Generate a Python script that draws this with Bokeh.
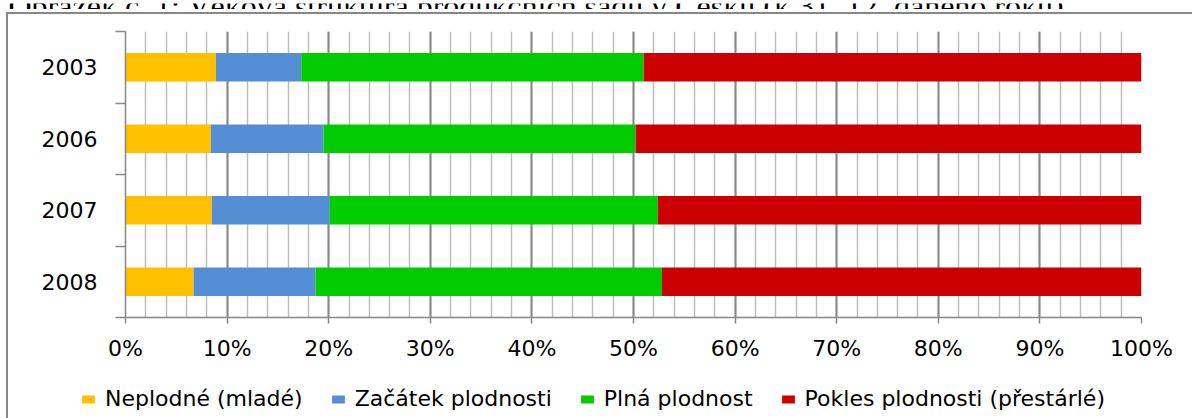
from bokeh.plotting import figure
from bokeh.layouts import column
from bokeh.models import (ColumnDataSource, FixedTicker, Legend, LegendItem,
                          PrintfTickFormatter, Range1d, InlineStyleSheet)
from bokeh.core.properties import value
from bokeh.embed import file_html
from bokeh.resources import INLINE

# ---------------- data ----------------
years = ["2003", "2006", "2007", "2008"]
neplodne = [8.9, 8.4, 8.5, 6.7]          # Neplodné (mladé)
zacatek = [8.4, 11.1, 11.6, 12.0]        # Začátek plodnosti
plna = [33.7, 30.7, 32.3, 34.1]          # Plná plodnost
pokles = [49.0, 49.8, 47.6, 47.2]        # Pokles plodnosti (přestárlé)
series_names = ["Neplodné (mladé)", "Začátek plodnosti", "Plná plodnost",
                "Pokles plodnosti (přestárlé)"]
colors = ["#FFC000", "#558ED5", "#00CC00", "#CC0000"]
x_ticks = list(range(0, 101, 10))
x_minor = list(range(0, 101, 2))
caption = "Obrázek č. 1: Věková struktura produkčních sadů v Česku (k 31. 12. daného roku)"

# ---------------- layout constants (px) ----------------
W = 1192
CAP_H = 9                      # visible strip of the (cropped) caption
LEG_H = 45                     # legend strip at the bottom
H = 418 - CAP_H - LEG_H        # main chart
FRAME_L, FRAME_R, FRAME_T, FRAME_B = 125, 1141, 22, 308


def no_align(f):
    if "frame_align" in f.properties():
        f.frame_align = False
    return f


def strip(height):
    f = figure(width=W, height=height, output_backend="svg", toolbar_location=None,
               x_range=Range1d(0, W), y_range=Range1d(0, height),
               x_axis_type=None, y_axis_type=None, title=None,
               min_border=0, min_border_left=0, min_border_right=0,
               min_border_top=0, min_border_bottom=0)
    f.outline_line_color = None
    f.grid.visible = False
    return no_align(f)


# ---------------- caption strip (cropped at the top, as in the source) ----------------
cap = strip(CAP_H)
cap.text(x=[8], y=[CAP_H - 2], text=[caption], text_font=value("Liberation Serif"),
         text_font_size="32px", text_color="black", text_baseline="alphabetic",
         text_align="left")

# ---------------- main chart ----------------
n = len(years)
ypos = [n - i - 0.5 for i in range(n)]    # first year on top
bounds = list(range(n + 1))

src = ColumnDataSource(dict(y=ypos, s0=neplodne, s1=zacatek, s2=plna, s3=pokles))

p = figure(width=W, height=H, output_backend="svg", toolbar_location=None,
           x_range=(0, 100), y_range=(0, n), title=None,
           min_border_left=FRAME_L, min_border_right=W - FRAME_R,
           min_border_top=FRAME_T, min_border_bottom=H - FRAME_B)
no_align(p)
p.outline_line_color = None
p.background_fill_color = "white"
p.border_fill_color = "white"

renderers = p.hbar_stack(["s0", "s1", "s2", "s3"], y="y", height=0.4,
                         color=colors, line_color=None, source=src)

# grid
p.ygrid.grid_line_color = None
p.xgrid.ticker = FixedTicker(ticks=x_ticks, minor_ticks=x_minor)
p.xgrid.grid_line_color = "#878787"
p.xgrid.grid_line_width = 2
p.xgrid.minor_grid_line_color = "#BDBDBD"
p.xgrid.minor_grid_line_width = 1.5

# x axis
xa = p.xaxis[0]
xa.ticker = FixedTicker(ticks=x_ticks)
xa.formatter = PrintfTickFormatter(format="%d%%")
xa.axis_line_color = "#878787"
xa.axis_line_width = 1.5
xa.major_tick_line_color = "#878787"
xa.major_tick_line_width = 1.5
xa.major_tick_out = 6
xa.major_tick_in = 0
xa.minor_tick_line_color = None
xa.major_label_standoff = 12
xa.major_label_text_font = "DejaVu Sans"
xa.major_label_text_font_size = "22px"
xa.major_label_text_color = "black"

# y axis
ya = p.yaxis[0]
ya.ticker = FixedTicker(ticks=ypos, minor_ticks=bounds)
ya.major_label_overrides = {float(y): lab for y, lab in zip(ypos, years)}
ya.axis_line_color = "#878787"
ya.axis_line_width = 1.5
ya.major_tick_out = 0
ya.major_tick_in = 0
ya.minor_tick_out = 10
ya.minor_tick_in = 0
ya.minor_tick_line_color = "#878787"
ya.minor_tick_line_width = 1.5
ya.major_label_standoff = 18
ya.major_label_text_font = "DejaVu Sans"
ya.major_label_text_font_size = "22px"
ya.major_label_text_color = "black"

# ---------------- legend strip ----------------
lf = strip(LEG_H)
# zero-size key renderers: they only supply the legend swatches
keys = [lf.hbar(y=[0], left=[0], right=[0], height=0, color=c, line_color=None)
        for c in colors]
legend = Legend(items=[LegendItem(label=nm, renderers=[k])
                       for nm, k in zip(series_names, keys)],
                orientation="horizontal", location=(80, 7),
                label_text_font="DejaVu Sans", label_text_font_size="22px",
                label_text_color="black", glyph_width=16, glyph_height=10,
                label_standoff=9, spacing=27, padding=5, margin=0,
                border_line_color=None, background_fill_alpha=0)
lf.add_layout(legend, "center")

# outer chart-area border (left and top edges)
border_css = InlineStyleSheet(css="""
:host::after { content: ''; position: absolute; left: 6px; top: 12px; right: 0; bottom: 0;
  border-left: 2px solid #878787; border-top: 2px solid #878787; pointer-events: none; }
""")

layout = column(cap, p, lf, spacing=0, stylesheets=[border_css])
open("out.html", "w").write(file_html(layout, INLINE))
